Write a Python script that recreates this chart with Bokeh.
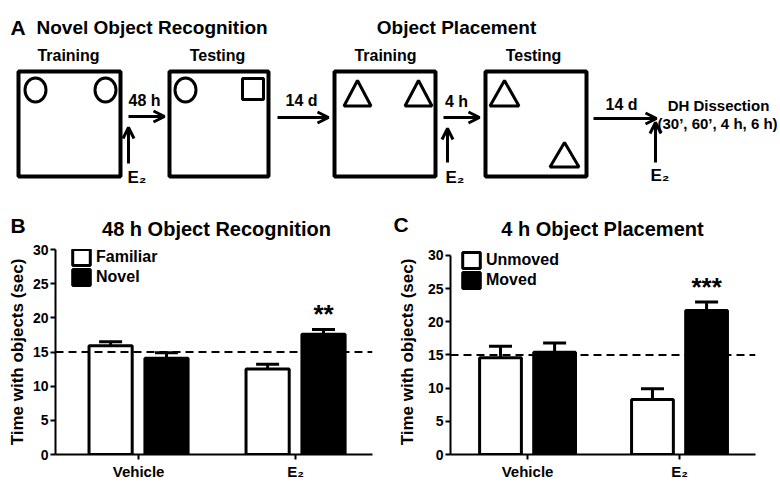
import numpy as np
from bokeh.plotting import figure
from bokeh.layouts import column, row
from bokeh.models import (Range1d, ColumnDataSource, Whisker, TeeHead, Arrow, OpenHead,
                          Span, Legend, LegendItem, FixedTicker)
from bokeh.transform import dodge
from bokeh.core.properties import value
from bokeh.embed import file_html
from bokeh.resources import INLINE

FONT = "Liberation Sans"

# ---------------- data ----------------
groups = ["Vehicle", "E₂"]
nor_familiar_mean = [15.9, 12.5]
nor_familiar_sem = [0.6, 0.7]
nor_novel_mean = [14.1, 17.6]
nor_novel_sem = [0.8, 0.7]
nor_sig = ["", "**"]

op_unmoved_mean = [14.6, 8.3]
op_unmoved_sem = [1.7, 1.6]
op_moved_mean = [15.4, 21.7]
op_moved_sem = [1.4, 1.3]
op_sig = ["", "***"]

chance_level = 15
y_ticks = [0, 5, 10, 15, 20, 25, 30]
y_max = 30

# ---------------- panel A (schematic) ----------------
top = figure(width=780, height=240, x_range=Range1d(0, 780), y_range=Range1d(240, 0),
             output_backend="svg", toolbar_location=None, title_location=None,
             x_axis_location=None, y_axis_location=None,
             min_border=0, min_border_left=0, min_border_right=0,
             min_border_top=0, min_border_bottom=0, outline_line_color=None)
top.xgrid.visible = False
top.ygrid.visible = False

# arenas
top.quad(left=[18, 169, 334, 485], right=[120, 268, 435, 586], top=[71] * 4, bottom=[176] * 4,
         fill_color=None, line_color="black", line_width=4)
# circles (objects)
top.ellipse(x=[35, 105, 185], y=[89.5, 89.5, 89.5], width=[21, 21, 21], height=[24, 24, 24],
            fill_color="white", line_color="black", line_width=3)
# square (novel object)
top.rect(x=[252.5], y=[88.5], width=[21], height=[21], fill_color="white",
         line_color="black", line_width=3)
# triangles
tri_boxes = [(343.5, 370.5, 80, 105.5), (404.5, 431.5, 80, 105.5),
             (489.5, 518.5, 80, 105.5), (549.5, 578.5, 142, 166.5)]
top.patches(xs=[[l, (l + r) / 2, r] for l, r, t, b in tri_boxes],
            ys=[[b, t, b] for l, r, t, b in tri_boxes],
            fill_color="white", line_color="black", line_width=3)

# arrows
h_arrows = [(128, 116, 164, 116), (277, 117, 328, 117), (443, 117, 479, 117), (593, 118, 656, 118)]
v_arrows = [(128, 163, 128, 127), (447, 162, 447, 128), (655, 162, 655, 122)]
for x0, y0, x1, y1 in h_arrows + v_arrows:
    top.add_layout(Arrow(end=OpenHead(size=11, line_width=3, line_color="black"),
                         x_start=x0, y_start=y0, x_end=x1, y_end=y1,
                         line_width=3, line_color="black"))

bold = dict(text_font=value(FONT), text_font_style="bold", text_color="black",
            text_baseline="alphabetic")
# panel letters
top.text(x=[10, 10, 393], y=[27, 225, 224], text=["A", "B", "C"], text_align="left",
         text_font_size="21px", **bold)
top.text(x=[36], y=[27], text=["Novel Object Recognition"], text_align="left",
         text_font_size="19px", **bold)
top.text(x=[456], y=[27], text=["Object Placement"], text_align="center",
         text_font_size="19px", **bold)
top.text(x=[216, 602], y=[228, 228], text=["48 h Object Recognition", "4 h Object Placement"],
         text_align="center", text_font_size="20px", **bold)
top.text(x=[68, 217, 385, 533], y=[55, 55, 55, 55],
         text=["Training", "Testing", "Training", "Testing"],
         text_align="center", text_font_size="16px", **bold)
top.text(x=[144, 301, 456, 621], y=[100, 100, 101, 104], text=["48 h", "14 d", "4 h", "14 d"],
         text_align="center", text_font_size="16px", **bold)
top.text(x=[718], y=[105], text=["DH Dissection"], text_align="center",
         text_font_size="15px", **bold)
top.text(x=[657], y=[123], text=["(30’, 60’, 4 h, 6 h)"], text_align="left",
         text_font_size="15px", **bold)
top.text(x=[127, 445, 650], y=[177, 177, 175], text=["E₂", "E₂", "E₂"], text_align="left",
         text_font_size="17px", **bold)


# ---------------- bar panels ----------------
def bar_panel(width, border_left, border_right, x_range, y_end,
              m1, s1, m2, s2, sig, names, label_standoff, legend_loc):
    p = figure(width=width, height=242, x_range=Range1d(*x_range), y_range=Range1d(0, y_end),
               output_backend="svg", toolbar_location=None, title_location=None,
               min_border_left=border_left, min_border_right=border_right,
               min_border_top=9, min_border_bottom=26,
               outline_line_color=None)
    p.xgrid.visible = False
    p.ygrid.visible = False

    src = ColumnDataSource(dict(
        x=list(range(len(groups))),
        m1=m1, u1=[a + b for a, b in zip(m1, s1)],
        m2=m2, u2=[a + b for a, b in zip(m2, s2)],
        sig=sig))
    off = 0.178
    bw = 0.275
    r1 = p.vbar(x=dodge("x", -off), top="m1", width=bw, bottom=0, source=src,
                fill_color="white", line_color="black", line_width=3)
    r2 = p.vbar(x=dodge("x", off), top="m2", width=bw, bottom=0, source=src,
                fill_color="black", line_color="black", line_width=3)
    for xs, lo, up in [(-off, "m1", "u1"), (off, "m2", "u2")]:
        p.add_layout(Whisker(source=src, base=dodge("x", xs), lower=lo, upper=up,
                             line_color="black", line_width=3,
                             upper_head=TeeHead(size=23, line_width=3, line_color="black"),
                             lower_head=None))
    p.text(x=dodge("x", off), y="u2", text="sig", source=src, y_offset=-15,
           text_align="center", text_baseline="alphabetic", text_font=value(FONT),
           text_font_style="bold", text_font_size="26px", text_color="black")
    p.add_layout(Span(location=chance_level, dimension="width", line_color="black",
                      line_width=2, line_dash="8 5"))

    leg = Legend(items=[LegendItem(label=names[0], renderers=[r1]),
                        LegendItem(label=names[1], renderers=[r2])],
                 location=legend_loc, orientation="vertical",
                 border_line_color=None, background_fill_alpha=0,
                 padding=0, margin=0, spacing=0,
                 glyph_width=22, glyph_height=20, label_standoff=4,
                 label_text_font=FONT, label_text_font_style="bold",
                 label_text_font_size="16px", label_text_color="black")
    p.add_layout(leg)

    p.yaxis.ticker = FixedTicker(ticks=y_ticks)
    p.yaxis.bounds = (0, y_max)
    p.xaxis.ticker = FixedTicker(ticks=list(range(len(groups))))
    p.xaxis.major_label_overrides = {i: g for i, g in enumerate(groups)}
    for ax in (p.xaxis, p.yaxis):
        ax.axis_line_width = 2
        ax.axis_line_color = "black"
        ax.major_tick_line_width = 2
        ax.major_tick_line_color = "black"
        ax.major_tick_out = 5
        ax.major_tick_in = 0
        ax.minor_tick_out = 0
        ax.minor_tick_in = 0
        ax.major_label_text_font = FONT
        ax.major_label_text_font_style = "bold"
        ax.major_label_text_color = "black"
    p.yaxis.major_label_text_font_size = "14px"
    p.xaxis.major_label_text_font_size = "15px"
    p.yaxis.major_label_standoff = 2
    p.xaxis.major_label_standoff = 3
    p.yaxis.axis_label = "Time with objects (sec)"
    p.yaxis.axis_label_text_font = FONT
    p.yaxis.axis_label_text_font_style = "bold"
    p.yaxis.axis_label_text_font_size = "17px"
    p.yaxis.axis_label_text_color = "black"
    p.yaxis.axis_label_standoff = label_standoff
    return p


# both frames span y 249..456 (aligned in the row); panel C's axis stops at 30 (y 255)
pB = bar_panel(390, 55, 18, (-0.529, 1.49), 30.0,
               nor_familiar_mean, nor_familiar_sem, nor_novel_mean, nor_novel_sem,
               nor_sig, ["Familiar", "Novel"], 3, (15, 167))
pC = bar_panel(390, 60, 25, (-0.507, 1.50), 30.9,
               op_unmoved_mean, op_unmoved_sem, op_moved_mean, op_moved_sem,
               op_sig, ["Unmoved", "Moved"], 8, (10, 164))

layout = column(top, row(pB, pC, spacing=0), spacing=0)
open("out.html", "w").write(file_html(layout, INLINE))
